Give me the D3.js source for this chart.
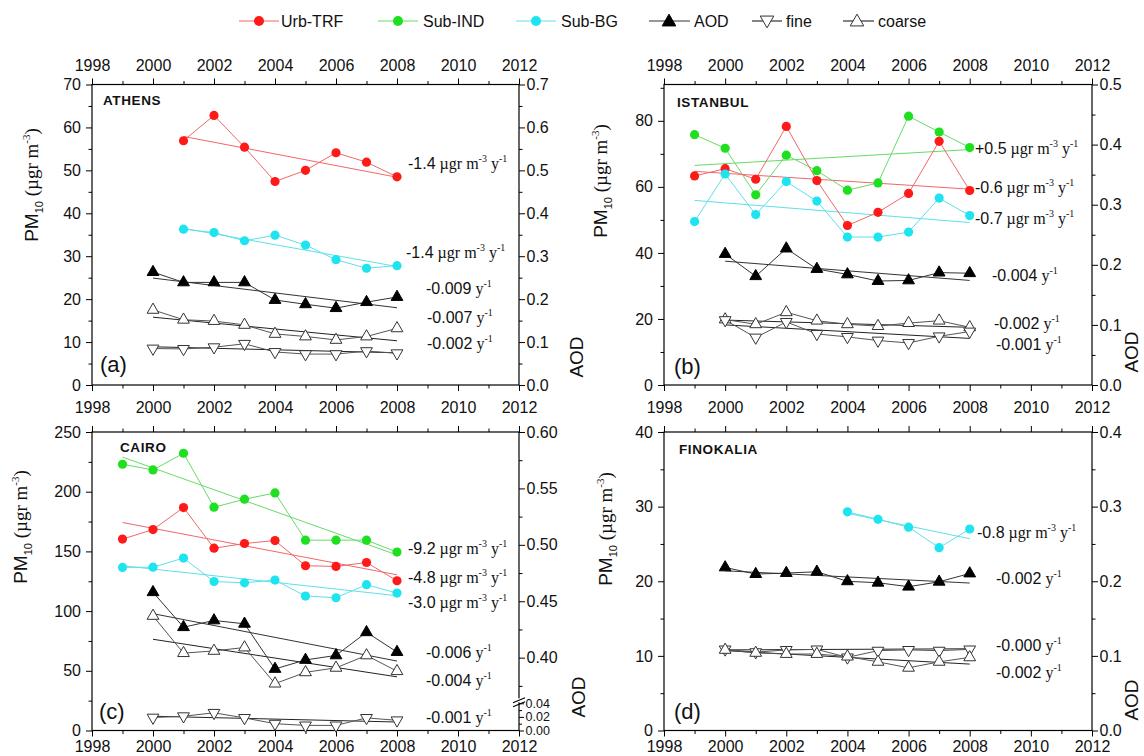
<!DOCTYPE html>
<html><head><meta charset="utf-8">
<script src="https://cdn.jsdelivr.net/npm/d3@7"></script>
<style>
body{margin:0;background:#fff}
svg{display:block}
text{font-family:Arial,"Liberation Sans",sans-serif}
</style>
</head><body>
<svg id="chart" width="1144" height="756"></svg>
<script>
// ---------------- DATA ----------------
const legendLabels = ['Urb-TRF', 'Sub-IND', 'Sub-BG', 'AOD', 'fine', 'coarse'];
const xTicksMajor = [1998, 2000, 2002, 2004, 2006, 2008, 2010, 2012];
const xTicksMinor = [1999, 2001, 2003, 2005, 2007, 2009, 2011];

const yearsAOD = [2000, 2001, 2002, 2003, 2004, 2005, 2006, 2007, 2008];
const yearsPM = [1999, 2000, 2001, 2002, 2003, 2004, 2005, 2006, 2007, 2008];
const yearsAthensPM = [2001, 2002, 2003, 2004, 2005, 2006, 2007, 2008];
const yearsFinoPM = [2004, 2005, 2006, 2007, 2008];

// Athens
const athensUrbTRF = [56.9, 62.8, 55.4, 47.4, 50.0, 54.1, 51.9, 48.5];
const athensSubBG = [36.3, 35.5, 33.6, 34.9, 32.6, 29.2, 27.2, 27.8];
const athensAOD = [0.263, 0.239, 0.239, 0.239, 0.198, 0.188, 0.179, 0.193, 0.205];
const athensCoarse = [0.175, 0.152, 0.149, 0.140, 0.119, 0.113, 0.105, 0.113, 0.132];
const athensFine = [0.085, 0.084, 0.088, 0.096, 0.077, 0.072, 0.072, 0.079, 0.074];
// Istanbul
const istanbulUrbTRF = [63.3, 65.5, 62.3, 78.3, 61.9, 48.3, 52.3, 58.0, 73.8, 58.9];
const istanbulSubIND = [75.8, 71.7, 57.6, 69.6, 64.9, 59.0, 61.2, 81.4, 76.6, 71.9];
const istanbulSubBG = [49.5, 63.9, 51.6, 61.6, 55.7, 44.8, 44.8, 46.3, 56.6, 51.3];
const istanbulAOD = [0.218, 0.181, 0.227, 0.193, 0.184, 0.173, 0.174, 0.187, 0.186];
const istanbulCoarse = [0.109, 0.101, 0.121, 0.107, 0.101, 0.098, 0.103, 0.107, 0.096];
const istanbulFine = [0.108, 0.079, 0.105, 0.085, 0.080, 0.074, 0.070, 0.081, 0.089];
// Cairo
const cairoUrbTRF = [160.3, 168.3, 186.7, 152.7, 156.6, 159.1, 138.0, 137.4, 140.7, 125.4];
const cairoSubIND = [223.0, 218.2, 232.2, 187.0, 193.7, 199.0, 159.4, 159.4, 159.4, 149.4];
const cairoSubBG = [136.6, 136.8, 144.4, 124.8, 123.7, 126.0, 112.6, 111.2, 122.1, 115.1];
const cairoAOD = [0.458, 0.427, 0.433, 0.430, 0.390, 0.398, 0.402, 0.4225, 0.405];
const cairoCoarse = [0.437, 0.404, 0.406, 0.409, 0.377, 0.387, 0.391, 0.402, 0.388];
const cairoFine = [0.019, 0.021, 0.026, 0.0185, 0.010, 0.0075, 0.0075, 0.0185, 0.015];
// Finokalia
const finokaliaSubBG = [29.3, 28.3, 27.25, 24.5, 27.0];
const finokaliaAOD = [0.2185, 0.2096, 0.211, 0.2127, 0.1999, 0.198, 0.1927, 0.1993, 0.2104];
const finokaliaFine = [0.1087, 0.105, 0.108, 0.1087, 0.098, 0.107, 0.108, 0.107, 0.1087];
const finokaliaCoarse = [0.108, 0.104, 0.1025, 0.1025, 0.099, 0.092, 0.084, 0.092, 0.098];

// trend lines: [series, startYear, startValue, endYear, endValue, slope label]
const athensTrends = [
  ['urb', 2001, 57.9, 2008, 48.4, '-1.4'],
  ['bg', 2001, 36.5, 2008, 27.6, '-1.4'],
  ['aod', 2000, 0.249, 2008, 0.180, '-0.009'],
  ['coarse', 2000, 0.158, 2008, 0.103, '-0.007'],
  ['fine', 2000, 0.089, 2008, 0.075, '-0.002']
];
const istanbulTrends = [
  ['ind', 1999, 66.5, 2008, 71.3, '+0.5'],
  ['urb', 1999, 64.7, 2008, 59.3, '-0.6'],
  ['bg', 1999, 55.9, 2008, 49.2, '-0.7'],
  ['aod', 2000, 0.206, 2008, 0.174, '-0.004'],
  ['coarse', 2000, 0.108, 2008, 0.096, '-0.002'],
  ['fine', 2000, 0.100, 2008, 0.0775, '-0.001']
];
const cairoTrends = [
  ['ind', 1999, 229.0, 2008, 147.0, '-9.2'],
  ['urb', 1999, 174.2, 2008, 130.4, '-4.8'],
  ['bg', 1999, 138.0, 2008, 112.9, '-3.0'],
  ['aod', 2000, 0.439, 2008, 0.397, '-0.006'],
  ['coarse', 2000, 0.4163, 2008, 0.383, '-0.004'],
  ['fine', 2000, 0.021, 2008, 0.0125, '-0.001']
];
const finokaliaTrends = [
  ['bg', 2004, 29.1, 2008, 25.7, '-0.8'],
  ['aod', 2000, 0.214, 2008, 0.1976, '-0.002'],
  ['fine', 2000, 0.108, 2008, 0.1095, '-0.000'],
  ['coarse', 2000, 0.107, 2008, 0.089, '-0.002']
];

// axis tick values
const athensPMTicks = [0, 10, 20, 30, 40, 50, 60, 70];
const athensAODTicks = [0, 0.1, 0.2, 0.3, 0.4, 0.5, 0.6, 0.7];
const istanbulPMTicks = [0, 20, 40, 60, 80];
const istanbulAODTicks = [0, 0.1, 0.2, 0.3, 0.4, 0.5];
const cairoPMTicks = [0, 50, 100, 150, 200, 250];
const cairoAODTicksUpper = [0.40, 0.45, 0.50, 0.55, 0.60];
const cairoAODTicksLower = [0.00, 0.02, 0.04];
const finokaliaPMTicks = [0, 10, 20, 30, 40];
const finokaliaAODTicks = [0, 0.1, 0.2, 0.3, 0.4];

// ---------------- STYLE / LAYOUT ----------------
const SERIF = '"Liberation Serif","Times New Roman",serif';
const SANS = 'Arial,"Liberation Sans",sans-serif';
const style = {
  urb: {marker: '#ff1a1a', line: '#f06868', type: 'circle'},
  ind: {marker: '#1ee01e', line: '#66dc66', type: 'circle'},
  bg: {marker: '#1ee4f0', line: '#5ee0ea', type: 'circle'},
  aod: {marker: '#000', line: '#333', trend: '#333', type: 'up', fill: '#000'},
  fine: {marker: '#333', line: '#555', trend: '#222', type: 'down', fill: '#fff'},
  coarse: {marker: '#333', line: '#555', trend: '#222', type: 'up', fill: '#fff'}
};

const svg = d3.select('#chart');

function steps(min, max, step) { const a = []; for (let v = min; v <= max + 1e-9; v += step) a.push(+v.toFixed(4)); return a; }

const panels = [
  {
    name: 'ATHENS', namePos: [103, 100], letter: '(a)', letterPos: [100, 365],
    xr: [92, 519], yr: [385, 84.5], pmDomain: [0, 70],
    aod: d3.scaleLinear().domain([0, 0.7]).range([385, 84.5]),
    pmTicks: athensPMTicks, pmMinor: steps(5, 65, 10),
    aodTicks: athensAODTicks, aodMinor: steps(0.05, 0.65, 0.1), aodFmt: '.1f',
    topLabels: 7.8, bottomLabels: 10.3,
    pmLabel: [31.5, 185], aodLabel: [576, 357],
    series: [
      ['urb', yearsAthensPM, athensUrbTRF, 'pm'],
      ['bg', yearsAthensPM, athensSubBG, 'pm'],
      ['aod', yearsAOD, athensAOD, 'aod'],
      ['coarse', yearsAOD, athensCoarse, 'aod'],
      ['fine', yearsAOD, athensFine, 'aod']
    ],
    trends: athensTrends,
    labelPos: {urb: [408, 163], bg: [406, 252], aod: [426, 288], coarse: [427, 317], fine: [427, 343]}
  },
  {
    name: 'ISTANBUL', namePos: [677, 102], letter: '(b)', letterPos: [674, 367],
    xr: [664, 1092], yr: [385, 84.5], pmDomain: [0, 91],
    aod: d3.scaleLinear().domain([0, 0.5]).range([385, 84.5]),
    pmTicks: istanbulPMTicks, pmMinor: steps(10, 90, 20),
    aodTicks: istanbulAODTicks, aodMinor: steps(0.05, 0.45, 0.1), aodFmt: '.1f',
    topLabels: 7.8, bottomLabels: 10.3,
    pmLabel: [601, 181], aodLabel: [1131, 352],
    series: [
      ['ind', yearsPM, istanbulSubIND, 'pm'],
      ['urb', yearsPM, istanbulUrbTRF, 'pm'],
      ['bg', yearsPM, istanbulSubBG, 'pm'],
      ['aod', yearsAOD, istanbulAOD, 'aod'],
      ['coarse', yearsAOD, istanbulCoarse, 'aod'],
      ['fine', yearsAOD, istanbulFine, 'aod']
    ],
    trends: istanbulTrends,
    labelPos: {ind: [975, 148], urb: [975, 187], bg: [975, 218], aod: [992, 275], coarse: [994, 323], fine: [996, 344]}
  },
  {
    name: 'CAIRO', namePos: [120, 447], letter: '(c)', letterPos: [99, 712],
    xr: [92, 519], yr: [730.5, 432], pmDomain: [0, 250],
    aod: d3.scaleLinear().domain([0, 0.04, 0.36, 0.60]).range([730.5, 703.3, 702.8, 432]),
    pmTicks: cairoPMTicks, pmMinor: steps(25, 225, 50),
    aodTicks: cairoAODTicksUpper, aodMinor: steps(0.375, 0.575, 0.05), aodFmt: '.2f',
    aodLower: cairoAODTicksLower, aodLowerMinor: [0.01, 0.03],
    topLabels: null, bottomLabels: 4.5, broken: true,
    pmLabel: [21, 527], aodLabel: [578, 697],
    series: [
      ['ind', yearsPM, cairoSubIND, 'pm'],
      ['urb', yearsPM, cairoUrbTRF, 'pm'],
      ['bg', yearsPM, cairoSubBG, 'pm'],
      ['aod', yearsAOD, cairoAOD, 'aod'],
      ['coarse', yearsAOD, cairoCoarse, 'aod'],
      ['fine', yearsAOD, cairoFine, 'aod']
    ],
    trends: cairoTrends,
    labelPos: {ind: [408, 548], urb: [408, 577], bg: [408, 602], aod: [426, 652], coarse: [426, 680], fine: [426, 717]}
  },
  {
    name: 'FINOKALIA', namePos: [679, 449], letter: '(d)', letterPos: [674, 712],
    xr: [664, 1092], yr: [730.5, 432], pmDomain: [0, 40],
    aod: d3.scaleLinear().domain([0, 0.4]).range([730.5, 432]),
    pmTicks: finokaliaPMTicks, pmMinor: steps(5, 35, 10),
    aodTicks: finokaliaAODTicks, aodMinor: steps(0.05, 0.35, 0.1), aodFmt: '.1f',
    topLabels: null, bottomLabels: 4.5,
    pmLabel: [606, 529], aodLabel: [1131, 700],
    series: [
      ['bg', yearsFinoPM, finokaliaSubBG, 'pm'],
      ['aod', yearsAOD, finokaliaAOD, 'aod'],
      ['fine', yearsAOD, finokaliaFine, 'aod'],
      ['coarse', yearsAOD, finokaliaCoarse, 'aod']
    ],
    trends: finokaliaTrends,
    labelPos: {bg: [977, 532], aod: [996, 578], fine: [996, 645], coarse: [996, 672]}
  }
];

function styleAxis(g, size) {
  g.select('.domain').remove();
  g.selectAll('line').attr('stroke', '#000').attr('stroke-width', 1);
  g.selectAll('text').attr('font-family', SANS).attr('font-size', size || 16).attr('fill', '#111');
  g.attr('font-family', null).attr('font-size', null);
}

function marker(g, type, x, y, st, big) {
  if (type === 'circle') {
    g.append('circle').attr('cx', x).attr('cy', y).attr('r', big ? 5 : 4.6).attr('fill', st.marker);
  } else {
    const sym = d3.symbol().type(d3.symbolTriangle).size(big ? 80 : 60);
    g.append('path').attr('d', sym())
      .attr('transform', `translate(${x},${y})` + (type === 'down' ? ' rotate(180)' : ''))
      .attr('fill', st.fill).attr('stroke', st.marker).attr('stroke-width', 1);
  }
}

function addSup(t, s) {
  t.append('tspan').attr('font-size', 10).attr('dy', -7).attr('font-family', SERIF).text(s);
  return 7;
}

function trendText(g, x, y, num, isPM) {
  const t = g.append('text').attr('x', x).attr('y', y + 5.5).attr('font-size', 16).attr('fill', '#111');
  t.append('tspan').attr('font-family', SANS).text(num);
  let back = 0;
  if (isPM) {
    t.append('tspan').attr('font-family', SERIF).text('\u00a0\u00b5gr m');
    back = addSup(t, '-3');
  }
  t.append('tspan').attr('font-family', SERIF).attr('dy', back).text('\u00a0y');
  addSup(t, '-1');
}

panels.forEach(p => {
  const x = d3.scaleLinear().domain([1998, 2012]).range(p.xr);
  const pm = d3.scaleLinear().domain(p.pmDomain).range(p.yr);
  const aod = p.aod;
  const g = svg.append('g');
  const [x0, x1] = p.xr, [yb, yt] = p.yr;

  // x axes
  const top = g.append('g').attr('transform', `translate(0,${yt})`)
    .call(d3.axisTop(x).tickValues(xTicksMajor).tickSize(6).tickPadding(p.topLabels || 0).tickFormat(p.topLabels ? d3.format('d') : ''));
  styleAxis(top);
  const topMin = g.append('g').attr('transform', `translate(0,${yt})`).call(d3.axisTop(x).tickValues(xTicksMinor).tickSize(3.5).tickFormat(''));
  styleAxis(topMin);
  const bot = g.append('g').attr('transform', `translate(0,${yb})`)
    .call(d3.axisBottom(x).tickValues(xTicksMajor).tickSize(6).tickPadding(p.bottomLabels).tickFormat(d3.format('d')));
  styleAxis(bot);
  const botMin = g.append('g').attr('transform', `translate(0,${yb})`).call(d3.axisBottom(x).tickValues(xTicksMinor).tickSize(3.5).tickFormat(''));
  styleAxis(botMin);

  // left PM axis
  const left = g.append('g').attr('transform', `translate(${x0},0)`)
    .call(d3.axisLeft(pm).tickValues(p.pmTicks).tickSize(6).tickPadding(5).tickFormat(d3.format('d')));
  styleAxis(left);
  const leftMin = g.append('g').attr('transform', `translate(${x0},0)`).call(d3.axisLeft(pm).tickValues(p.pmMinor).tickSize(3.5).tickFormat(''));
  styleAxis(leftMin);

  // right AOD axis
  const right = g.append('g').attr('transform', `translate(${x1},0)`)
    .call(d3.axisRight(aod).tickValues(p.aodTicks).tickSize(6).tickPadding(1.5).tickFormat(d3.format(p.aodFmt)));
  styleAxis(right);
  const rightMin = g.append('g').attr('transform', `translate(${x1},0)`).call(d3.axisRight(aod).tickValues(p.aodMinor).tickSize(3.5).tickFormat(''));
  styleAxis(rightMin);
  if (p.aodLower) {
    const rl = g.append('g').attr('transform', `translate(${x1},0)`)
      .call(d3.axisRight(aod).tickValues(p.aodLower).tickSize(5).tickPadding(1.5).tickFormat(d3.format('.2f')));
    styleAxis(rl, 12.5);
    const rlm = g.append('g').attr('transform', `translate(${x1},0)`).call(d3.axisRight(aod).tickValues(p.aodLowerMinor).tickSize(3).tickFormat(''));
    styleAxis(rlm);
  }

  // frame
  g.append('rect').attr('x', x0).attr('y', yt).attr('width', x1 - x0).attr('height', yb - yt)
    .attr('fill', 'none').attr('stroke', '#000').attr('stroke-width', 1.2);

  if (p.broken) {
    const yBreak = aod(0.04) - 2;
    g.append('rect').attr('x', x1 - 2).attr('y', yBreak - 3).attr('width', 4).attr('height', 4).attr('fill', '#fff');
    [-0.5, 3.5].forEach(d => {
      g.append('line').attr('x1', x1 - 6).attr('y1', yBreak + d + 2).attr('x2', x1 + 6).attr('y2', yBreak + d - 3)
        .attr('stroke', '#000').attr('stroke-width', 1.1);
    });
  }

  const yOf = (axis) => axis === 'pm' ? pm : aod;

  // trend lines
  p.trends.forEach(([key, ya, va, yb2, vb]) => {
    const st = style[key];
    const sc = yOf(st.type === 'circle' ? 'pm' : 'aod');
    g.append('line').attr('x1', x(ya)).attr('y1', sc(va)).attr('x2', x(yb2)).attr('y2', sc(vb))
      .attr('stroke', st.trend || st.line).attr('stroke-width', 1);
  });

  // data lines
  const line = d3.line();
  p.series.forEach(([key, yrs, vals, axis]) => {
    const sc = yOf(axis);
    const pts = yrs.map((yy, i) => [x(yy), sc(vals[i])]);
    g.append('path').attr('d', line(pts)).attr('fill', 'none')
      .attr('stroke', style[key].line).attr('stroke-width', 1);
  });
  // markers
  p.series.forEach(([key, yrs, vals, axis]) => {
    const sc = yOf(axis);
    const st = style[key];
    yrs.forEach((yy, i) => marker(g, st.type, x(yy), sc(vals[i]), st));
  });

  // trend labels
  p.trends.forEach(([key, , , , , lab]) => {
    const [lx, ly] = p.labelPos[key];
    trendText(g, lx, ly, lab, style[key].type === 'circle');
  });

  // site name
  g.append('text').attr('x', p.namePos[0]).attr('y', p.namePos[1] + 5)
    .attr('font-size', 13.5).attr('font-weight', 'bold').attr('letter-spacing', 0.6).attr('fill', '#111').text(p.name);
  // panel letter
  g.append('text').attr('x', p.letterPos[0]).attr('y', p.letterPos[1] + 7)
    .attr('font-size', 22).attr('fill', '#111').text(p.letter);

  // PM10 axis title
  const pt = g.append('text').attr('transform', `translate(${p.pmLabel[0] + 6},${p.pmLabel[1]}) rotate(-90)`)
    .attr('text-anchor', 'middle').attr('font-size', 19).attr('fill', '#111');
  pt.append('tspan').attr('font-family', SANS).text('PM');
  pt.append('tspan').attr('font-family', SANS).attr('font-size', 11).attr('dy', 5).text('10');
  pt.append('tspan').attr('font-family', SERIF).attr('dy', -5).text('\u00a0(\u00b5gr m');
  pt.append('tspan').attr('font-family', SERIF).attr('font-size', 11).attr('dy', -8).text('-3');
  pt.append('tspan').attr('font-family', SERIF).attr('dy', 8).text(')');

  // AOD axis title
  g.append('text').attr('transform', `translate(${p.aodLabel[0] + 7},${p.aodLabel[1]}) rotate(-90)`)
    .attr('text-anchor', 'middle').attr('font-size', 19).attr('font-family', SANS).attr('fill', '#111').text('AOD');
});

// ---------------- LEGEND ----------------
const legendKeys = ['urb', 'ind', 'bg', 'aod', 'fine', 'coarse'];
const legendPos = [[239, 279, 259, 281], [378, 418, 398, 423], [516, 556, 536, 561], [649, 690, 669, 694], [752, 782, 767, 786], [843, 874, 857, 878]];
const lg = svg.append('g');
const LY = 21;
legendKeys.forEach((k, i) => {
  const [a, b, m, t] = legendPos[i];
  const st = style[k];
  lg.append('line').attr('x1', a).attr('x2', b).attr('y1', LY).attr('y2', LY)
    .attr('stroke', st.type === 'circle' ? st.line : '#333').attr('stroke-width', 1.2);
  marker(lg, st.type, m, LY + (st.type === 'circle' ? 0 : (st.type === 'up' ? 1 : -1)), st, true);
  lg.append('text').attr('x', t).attr('y', LY + 5.7).attr('font-size', 16).attr('font-family', SANS)
    .attr('fill', '#111').text(legendLabels[i]);
});
</script>
</body></html>
